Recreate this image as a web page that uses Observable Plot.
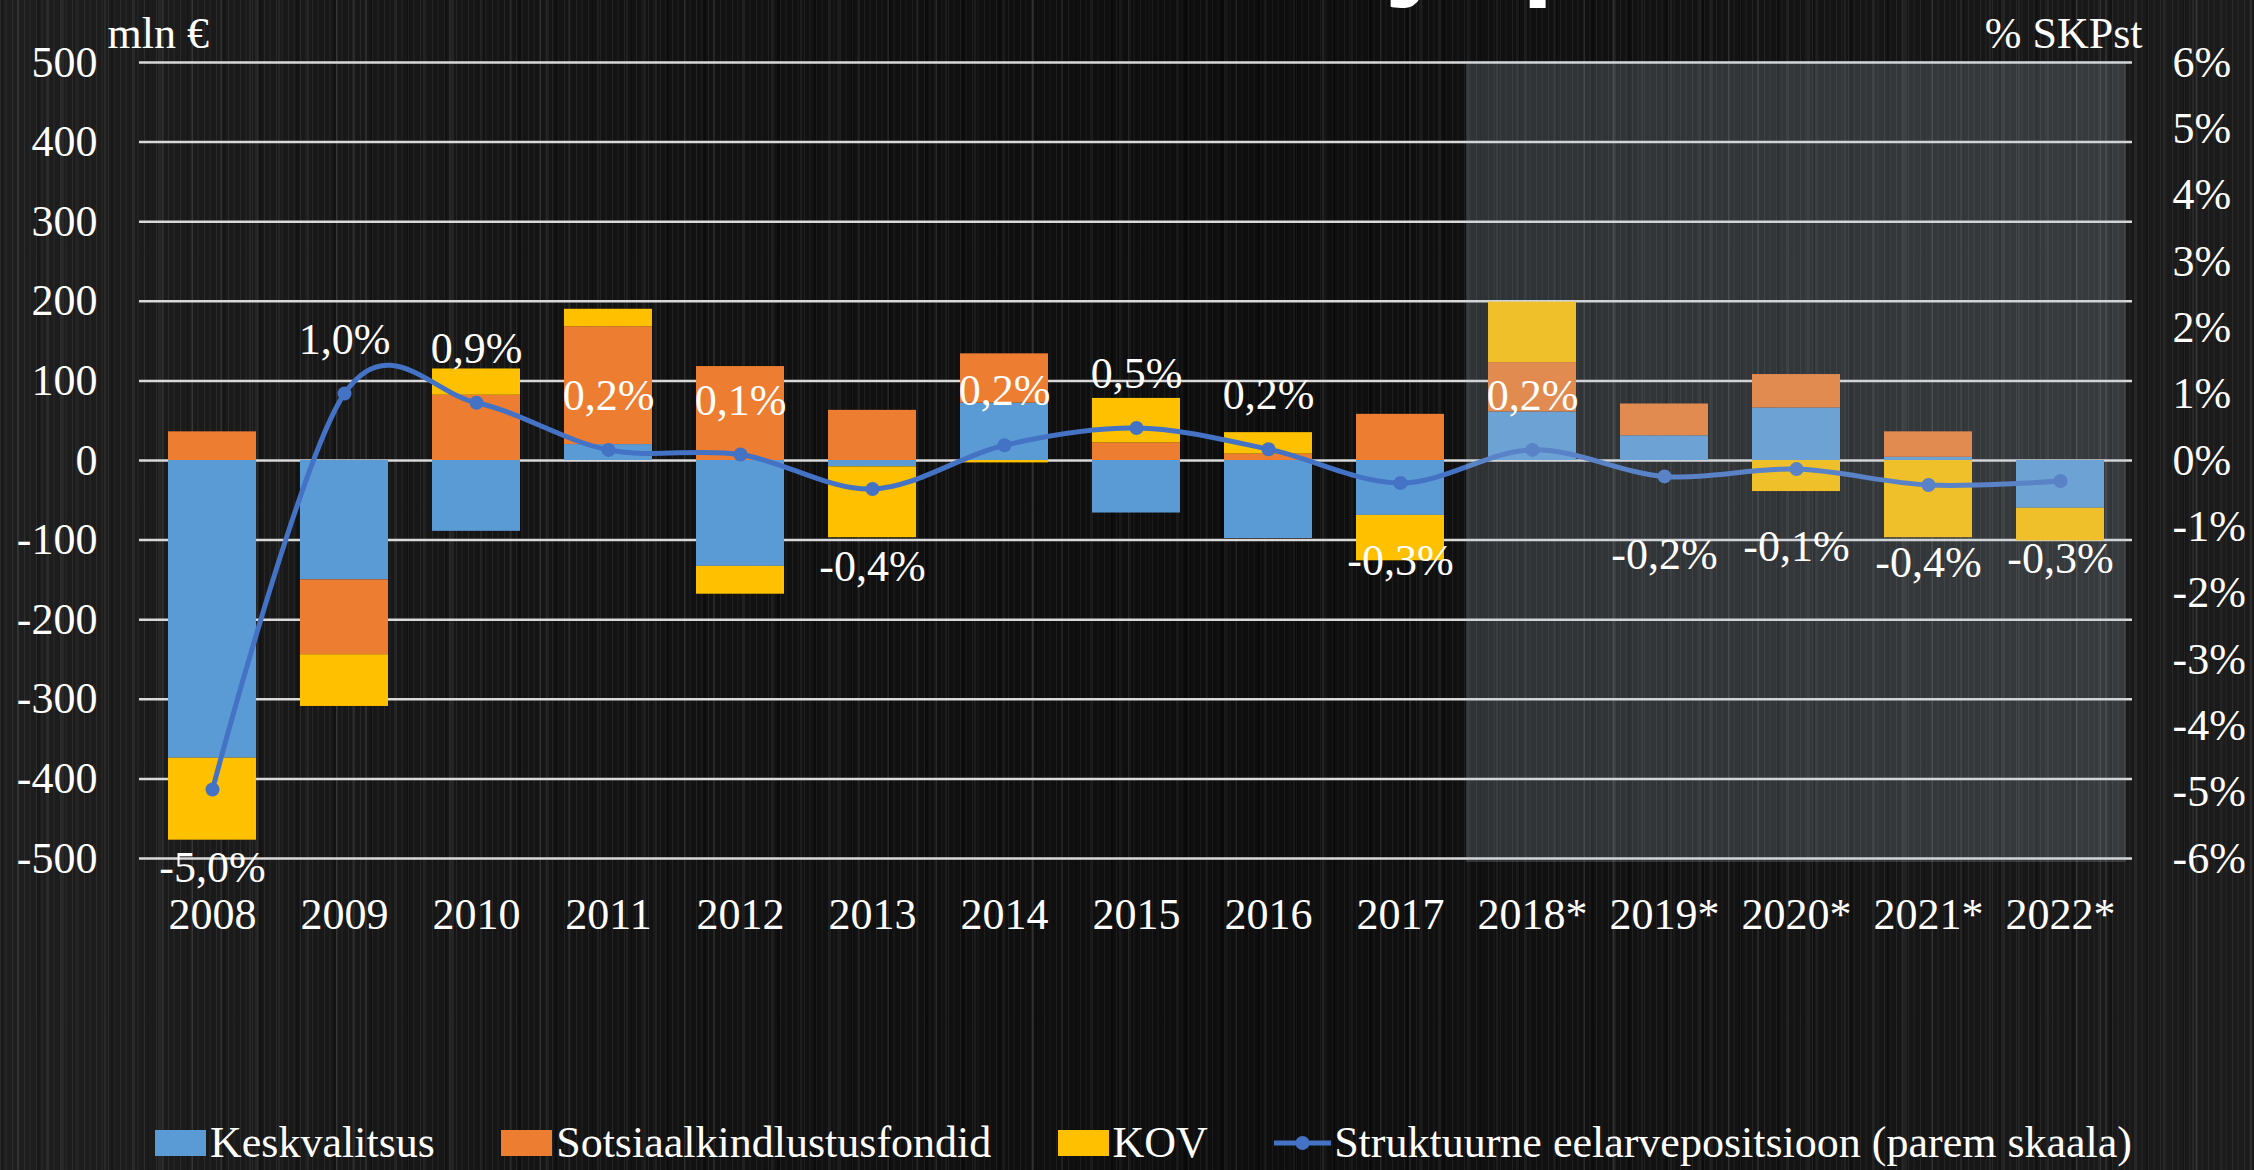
<!DOCTYPE html>
<html>
<head>
<meta charset="utf-8">
<script src="https://cdn.jsdelivr.net/npm/d3@7"></script>
<script src="https://cdn.jsdelivr.net/npm/@observablehq/plot@0.6"></script>
<style>
html, body { margin: 0; padding: 0; }
body {
  width: 2254px; height: 1170px; overflow: hidden;
  background-color: #121212;
  background-image:
    linear-gradient(90deg, rgba(255,255,255,0.05) 0%, rgba(255,255,255,0) 30%, rgba(0,0,0,0.25) 55%, rgba(255,255,255,0) 75%, rgba(255,255,255,0.04) 100%),
    repeating-linear-gradient(90deg, rgba(255,255,255,0.07) 0 1px, transparent 1px 5px, rgba(255,255,255,0.03) 5px 7px, transparent 7px 12px),
    repeating-linear-gradient(90deg, transparent 0 17px, rgba(255,255,255,0.06) 17px 19px, transparent 19px 29px),
    repeating-linear-gradient(90deg, rgba(0,0,0,0.35) 0 3px, transparent 3px 37px),
    repeating-linear-gradient(90deg, transparent 0 61px, rgba(255,255,255,0.05) 61px 64px, transparent 64px 97px);
}
#wrap { position: relative; width: 2254px; height: 1170px; overflow: hidden; color: #fff; font-family: "Liberation Serif", serif; }
#title { position: absolute; left: 0; top: -100px; text-align: left;
  font-family: "Open Sans", sans-serif; font-weight: 700; font-size: 106px; line-height: 106px; color: #fff; white-space: nowrap; }
#chart { position: absolute; left: 0; top: 0; }
#legend { position: absolute; left: 155px; top: 1121px; width: 1977px; display: flex; justify-content: space-between;
  align-items: center; font-size: 44px; line-height: 44px; white-space: nowrap; }
.item { display: flex; align-items: center; }
.sw { width: 51px; height: 26px; margin-right: 4px; }
</style>
</head>
<body>
<div id="wrap">
  <div id="title"></div>
  <div id="chart"></div>
  <div id="legend"></div>
</div>
<script>
// ---- data ----
const titleStart = "Eelarvetasakaal";
const titleEnd = ", mln € ja protsent";
const years = ["2008","2009","2010","2011","2012","2013","2014","2015","2016","2017","2018*","2019*","2020*","2021*","2022*"];
const seriesNames = ["Keskvalitsus", "Sotsiaalkindlustusfondid", "KOV"];
const seriesColors = ["#5B9BD5", "#ED7D31", "#FFC000"];
const keskvalitsus = [-374, -150, -89, 20, -133, -8, 72, -66, -98, -69, 61, 31, 66, 4, -60];
const sotsiaal     = [36, -94, 82, 148, 118, 63, 62, 22, 8, 58, 62, 40, 42, 32, 0];
const kov          = [-103, -65, 33, 22, -35, -89, -3, 56, 27, -57, 76, 0, -39, -97, -41];
const lineName = "Struktuurne eelarvepositsioon (parem skaala)";
const lineColor = "#4472C4";
const struktuurne  = [-4.96, 1.01, 0.87, 0.16, 0.09, -0.43, 0.23, 0.49, 0.17, -0.34, 0.16, -0.24, -0.13, -0.37, -0.31];
const leftTicks = [-500, -400, -300, -200, -100, 0, 100, 200, 300, 400, 500];
const pctTicks = [-6, -5, -4, -3, -2, -1, 0, 1, 2, 3, 4, 5, 6];
const leftUnit = "mln €";
const rightUnit = "% SKPst";

// ---- title (cropped at the top edge, as in the original) ----
{
  const title = document.getElementById("title");
  const probe = document.createElement("span");
  probe.style.display = "inline-block"; probe.style.width = "0"; probe.style.height = "0"; probe.style.verticalAlign = "baseline";
  const pre = document.createElement("span");
  pre.textContent = titleStart;
  title.appendChild(probe); title.appendChild(pre); title.appendChild(document.createTextNode(titleEnd));
  const tb = title.getBoundingClientRect();
  const baseOff = probe.getBoundingClientRect().top - tb.top;
  const preW = pre.getBoundingClientRect().width;
  title.style.top = (-17 - baseOff) + "px";
  title.style.left = (1018 - preW) + "px";
}

// ---- build ----
const seriesValues = [keskvalitsus, sotsiaal, kov];
const rows = years.flatMap((yr, i) => seriesNames.map((s, j) => ({year: yr, series: s, value: seriesValues[j][i]})));
const lineData = years.map((yr, i) => ({year: yr, pct: struktuurne[i]}));
const forecast = years.filter(y => y.endsWith("*"));
const k = 500 / 6; // percent -> left scale units

const W = 2254, H = 960, mL = 139, mR = 122;
const pInner = 0.337;
const step = (W - mL - mR) / years.length;
const halfGap = step * pInner / 2;
const fmt = v => v.toFixed(1).replace(".", ",") + "%";

const chart = Plot.plot({
  width: W, height: H,
  marginTop: 62, marginBottom: 102, marginLeft: mL, marginRight: mR,
  style: {background: "transparent", color: "#fff", fontFamily: "'Liberation Serif', serif", fontSize: "44px", overflow: "visible"},
  x: {domain: years, paddingInner: pInner, paddingOuter: pInner / 2, label: null},
  y: {domain: [-500, 500], label: null},
  color: {domain: seriesNames, range: seriesColors},
  marks: [
    Plot.ruleY(leftTicks, {stroke: "#d9d9d9", strokeWidth: 2.5}),
    Plot.barY(rows, {x: "year", y: "value", fill: "series"}),
    Plot.line(lineData, {x: "year", y: d => d.pct * k, stroke: lineColor, strokeWidth: 5, curve: "cardinal"}),
    Plot.dot(lineData, {x: "year", y: d => d.pct * k, r: 7, fill: lineColor}),
    Plot.barY(forecast, {x: d => d, y1: -500, y2: 500, fill: "rgb(180,195,210)", fillOpacity: 0.2,
      insetLeft: -halfGap, insetRight: -halfGap, insetTop: -1, insetBottom: -4, shapeRendering: "crispEdges"}),
    Plot.text(lineData.filter(d => d.pct >= 0), {x: "year", y: d => d.pct * k, text: d => fmt(d.pct), fill: "#fff", dy: -54}),
    Plot.text(lineData.filter(d => d.pct < 0), {x: "year", y: d => d.pct * k, text: d => fmt(d.pct), fill: "#fff", dy: 78}),
    Plot.axisX({tickSize: 0, tickPadding: 39, label: null}),
    Plot.axisY(leftTicks, {anchor: "left", tickSize: 0, tickPadding: 42, tickFormat: d => String(d), label: null}),
    Plot.axisY(pctTicks.map(p => p * k), {anchor: "right", tickSize: 0, tickPadding: 40, tickFormat: d => Math.round(d / k) + "%", label: null}),
    Plot.text([leftUnit], {frameAnchor: "top-left", text: d => d, textAnchor: "start", lineAnchor: "bottom", dx: -32, dy: -15, fill: "#fff"}),
    Plot.text([rightUnit], {frameAnchor: "top-right", text: d => d, textAnchor: "end", lineAnchor: "bottom", dx: 10, dy: -15, fill: "#fff"})
  ]
});
document.getElementById("chart").appendChild(chart);

// ---- legend ----
const legend = document.getElementById("legend");
seriesNames.forEach((s, j) => {
  const it = document.createElement("div");
  it.className = "item";
  const sw = document.createElement("div");
  sw.className = "sw";
  sw.style.background = seriesColors[j];
  const t = document.createElement("span");
  t.textContent = s;
  it.appendChild(sw); it.appendChild(t);
  legend.appendChild(it);
});
{
  const it = document.createElement("div");
  it.className = "item";
  const ns = "http://www.w3.org/2000/svg";
  const svg = document.createElementNS(ns, "svg");
  svg.setAttribute("width", 57); svg.setAttribute("height", 18);
  svg.style.marginRight = "3px";
  const ln = document.createElementNS(ns, "line");
  ln.setAttribute("x1", 0); ln.setAttribute("x2", 57); ln.setAttribute("y1", 9); ln.setAttribute("y2", 9);
  ln.setAttribute("stroke", lineColor); ln.setAttribute("stroke-width", 5);
  const c = document.createElementNS(ns, "circle");
  c.setAttribute("cx", 28.5); c.setAttribute("cy", 9); c.setAttribute("r", 7); c.setAttribute("fill", lineColor);
  svg.appendChild(ln); svg.appendChild(c);
  const t = document.createElement("span");
  t.textContent = lineName;
  it.appendChild(svg); it.appendChild(t);
  legend.appendChild(it);
}
</script>
</body>
</html>
